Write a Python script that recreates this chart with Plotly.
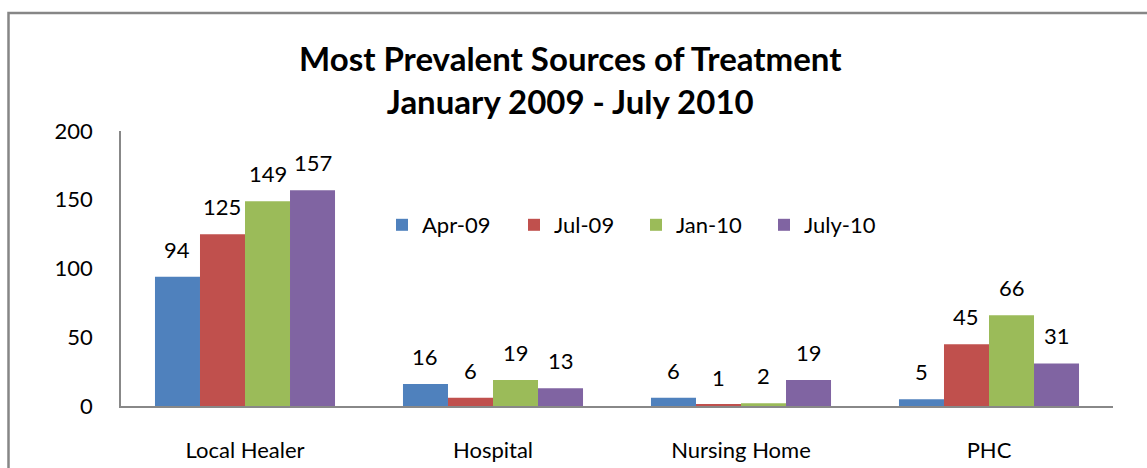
import plotly.graph_objects as go

categories = ["Local Healer", "Hospital", "Nursing Home", "PHC"]
series_names = ["Apr-09", "Jul-09", "Jan-10", "July-10"]
apr_09 = [94, 16, 6, 5]
jul_09 = [125, 6, 1, 45]
jan_10 = [149, 19, 2, 66]
july_10 = [157, 13, 19, 31]
colors = ["#4F81BD", "#C0504D", "#9BBB59", "#8064A2"]
y_ticks = [0, 50, 100, 150, 200]

FONT = "Lato, 'Open Sans', sans-serif"
FS = 22

W, H = 1147, 468
L, R, T, B = 121, 34, 131, 62
pw, ph = W - L - R, H - T - B
BARGAP = 0.274


def px_x(p):
    return (p - L) / pw


def px_y(p):
    return (H - B - p) / ph


# bar width in pixels, used to centre each value label over its bar
bar_px = pw / len(categories) * (1 - BARGAP) / len(series_names)

all_series = [apr_09, jul_09, jan_10, july_10]
fig = go.Figure()
annotations = []
legend_left = [382, 514, 636, 764]
legend_keys = ["legend", "legend2", "legend3", "legend4"]
for i, (name, vals, col) in enumerate(zip(series_names, all_series, colors)):
    fig.add_trace(go.Bar(
        x=categories, y=vals, name=name,
        marker=dict(color=col, line=dict(width=0)),
        legend=legend_keys[i],
    ))
    shift = (i - (len(series_names) - 1) / 2) * bar_px
    for cat, v in zip(categories, vals):
        annotations.append(dict(
            x=cat, y=v, xref="x", yref="y", text=str(v), showarrow=False,
            xanchor="center", yanchor="bottom", xshift=shift, yshift=12,
            font=dict(size=FS, family=FONT, color="#000000"),
        ))

annotations.append(dict(
    text="<b>Most Prevalent Sources of Treatment<br>January 2009 - July 2010</b>",
    xref="paper", yref="paper", x=px_x(570), y=px_y(80),
    xanchor="center", yanchor="middle", showarrow=False,
    font=dict(size=33, family=FONT, color="#000000"),
))

legend_style = dict(
    orientation="h", yanchor="middle", y=px_y(225), xanchor="left",
    font=dict(size=FS, family=FONT, color="#000000"),
    bgcolor="rgba(0,0,0,0)",
)

fig.update_layout(
    width=W, height=H,
    margin=dict(l=L, r=R, t=T, b=B, autoexpand=False),
    paper_bgcolor="white", plot_bgcolor="white",
    barmode="group", bargap=BARGAP, bargroupgap=0,
    font=dict(family=FONT, size=FS, color="#000000"),
    legend=dict(x=px_x(legend_left[0]), **legend_style),
    legend2=dict(x=px_x(legend_left[1]), **legend_style),
    legend3=dict(x=px_x(legend_left[2]), **legend_style),
    legend4=dict(x=px_x(legend_left[3]), **legend_style),
    xaxis=dict(
        showgrid=False, showline=True, linecolor="#888888", linewidth=1.5,
        ticks="", ticklabelstandoff=24, tickfont=dict(size=FS), automargin=False,
    ),
    yaxis=dict(
        range=[0, 200], tickvals=y_ticks, showgrid=False, showline=True,
        linecolor="#888888", linewidth=1.5, ticks="", ticklabelstandoff=22,
        tickfont=dict(size=FS), zeroline=False, automargin=False,
    ),
    annotations=annotations,
    shapes=[dict(
        type="rect", xref="paper", yref="paper",
        x0=px_x(8.5), x1=px_x(1170), y0=px_y(13), y1=px_y(490),
        line=dict(color="#868686", width=2.5), fillcolor="rgba(0,0,0,0)", layer="below",
    )],
    showlegend=True,
)

fig.write_html("out.html")
